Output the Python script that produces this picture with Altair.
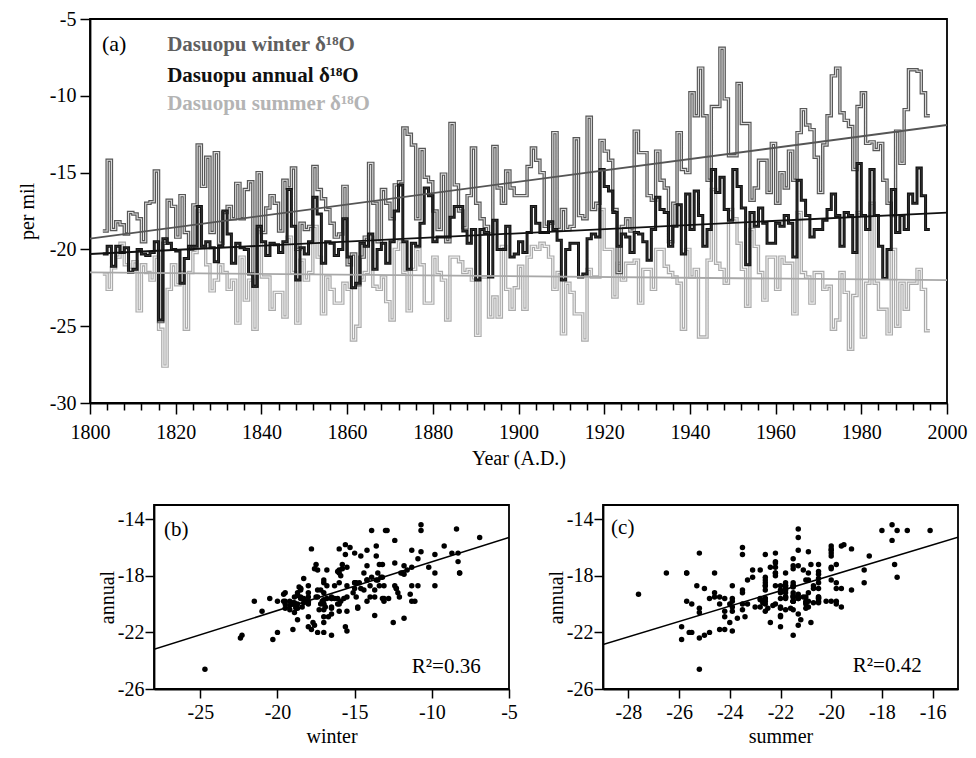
import altair as alt
import pandas as pd

# ---------------- data ----------------
years = list(range(1803, 1996))

winter = [
    -18.8, -14.2, -18.7, -18.2, -18.4, -19.0, -17.6,
    -17.7, -18.0, -19.5, -17.0, -16.9, -14.9, -24.7, -19.6, -16.8, -17.2,
    -19.2, -16.5, -18.9, -20.0, -17.1, -13.2, -15.9, -14.0, -18.9, -13.7,
    -19.6, -17.6, -17.2, -18.0, -15.7, -18.0, -16.1, -15.6, -22.4, -15.0,
    -18.9, -17.3, -16.5, -17.0, -18.8, -15.5, -16.0, -14.7, -20.0, -18.3,
    -18.7, -18.5, -14.6, -16.1, -16.7, -17.4, -18.3, -19.2, -19.0, -15.9,
    -21.0, -20.3, -22.3, -20.5, -19.2, -14.4, -17.0, -19.5, -16.1, -17.0,
    -18.0, -15.8, -15.6, -12.1, -12.5, -13.2, -18.0, -13.5, -15.3, -15.6,
    -17.5, -18.7, -15.1, -19.5, -11.8, -15.8, -17.5, -18.6, -16.5, -13.4,
    -17.0, -18.0, -18.5, -19.0, -13.3, -16.0, -17.0, -14.9, -16.0, -16.5,
    -16.5, -16.5, -14.6, -13.4, -14.2, -15.0, -18.5, -18.3, -12.4, -18.7,
    -17.4, -18.7, -18.5, -12.8, -17.8, -18.0, -11.4, -17.4, -17.0, -12.9,
    -13.6, -14.2, -17.4, -21.5, -18.5, -18.0, -18.8, -12.3, -13.7, -13.7,
    -16.5, -16.8, -13.6, -15.5, -16.0, -19.5, -17.0, -12.4, -14.8, -15.0,
    -9.8, -11.3, -8.2, -11.3, -15.5, -10.7, -10.7, -6.9, -10.2, -13.9,
    -13.9, -9.2, -11.8, -11.8, -16.8, -16.0, -14.2, -14.2, -16.3, -13.1,
    -17.0, -15.0, -16.0, -13.6, -15.5, -12.4, -10.9, -11.9, -12.2, -14.0,
    -16.3, -13.2, -11.3, -8.7, -8.2, -11.1, -11.6, -12.0, -14.8, -10.7,
    -9.8, -13.1, -13.0, -13.5, -13.1, -15.5, -17.0, -17.8, -12.3, -14.4,
    -10.9, -8.3, -8.3, -8.4, -9.8, -11.3,
]

annual = [
    -20.3, -19.8, -21.1, -19.8, -20.2, -19.9, -21.5,
    -21.3, -20.0, -20.3, -20.4, -20.2, -19.5, -24.6, -19.3, -19.6, -20.0,
    -20.1, -22.2, -20.6, -19.8, -19.8, -17.2, -19.8, -19.5, -19.9, -20.8,
    -19.8, -17.5, -19.0, -20.9, -19.6, -19.9, -20.0, -21.6, -22.4, -18.5,
    -19.5, -20.4, -19.6, -19.7, -20.2, -19.5, -16.1, -18.5, -22.0, -19.9,
    -20.3, -19.5, -16.6, -17.7, -20.9, -19.5, -19.6, -20.4, -20.0, -18.0,
    -20.5, -22.5, -22.2, -19.6, -19.8, -19.0, -21.3, -20.0, -19.6, -20.9,
    -19.5, -17.5, -15.8, -19.5, -21.3, -19.6, -19.8, -18.3, -16.0, -16.5,
    -19.5, -19.2, -19.2, -19.2, -17.9, -17.2, -17.2, -18.8, -19.6, -18.7,
    -22.0, -18.7, -18.9, -21.8, -18.1, -20.0, -20.0, -18.5, -20.5, -20.3,
    -19.5, -20.2, -18.9, -17.2, -18.3, -18.9, -18.9, -18.2, -18.7, -19.4,
    -22.0, -20.0, -19.6, -19.6, -21.8, -21.6, -19.3, -19.0, -19.2, -14.8,
    -15.9, -16.2, -17.6, -19.8, -19.0, -19.2, -20.2, -18.9, -19.0, -19.5,
    -20.7, -18.7, -16.6, -17.4, -17.6, -19.8, -18.5, -17.1, -20.3, -16.4,
    -18.7, -16.2, -17.8, -19.8, -18.7, -14.8, -16.3, -15.3, -17.4, -18.1,
    -14.8, -15.9, -17.3, -21.0, -17.6, -18.5, -17.3, -18.3, -19.6, -19.6,
    -18.3, -18.5, -17.8, -18.3, -20.5, -15.5, -16.8, -17.8, -19.2, -18.7,
    -18.7, -18.1, -17.4, -16.4, -17.8, -19.8, -17.6, -17.8, -20.2, -14.4,
    -17.8, -18.7, -14.8, -17.8, -19.8, -21.9, -20.0, -16.1, -18.9, -17.8,
    -18.7, -16.4, -17.0, -14.7, -16.5, -18.7,
]

summer = [
    -21.6, -22.6, -21.2, -20.5, -19.6, -21.0, -21.3,
    -20.8, -24.0, -21.0, -21.5, -22.0, -20.5, -25.2, -27.6, -22.6, -21.0,
    -22.3, -21.5, -25.2, -21.5, -20.2, -17.5, -19.8, -21.0, -22.7, -22.0,
    -21.0, -21.5, -22.6, -22.0, -24.8, -20.5, -23.3, -22.0, -25.2, -18.7,
    -21.8, -21.8, -23.9, -22.8, -22.8, -24.4, -19.2, -21.5, -24.8, -20.7,
    -22.0, -21.5, -18.5, -20.5, -24.2, -21.8, -22.6, -23.5, -23.5, -22.2,
    -22.6, -25.9, -25.0, -22.0, -21.5, -19.2, -22.4, -22.6, -21.8, -23.4,
    -24.6, -20.0, -19.5, -21.5, -24.0, -21.3, -20.0, -21.0, -23.5, -23.5,
    -20.5, -21.5, -22.0, -24.6, -20.5, -20.5, -20.8, -21.5, -21.3, -22.0,
    -25.6, -21.8, -21.8, -24.4, -23.1, -24.4, -19.8, -22.6, -23.9, -22.5,
    -21.1, -23.9, -20.5, -19.8, -20.0, -19.6, -19.8, -20.5, -22.6, -21.5,
    -25.5, -22.2, -22.8, -24.2, -24.2, -25.9, -21.3, -21.8, -21.8, -17.4,
    -20.0, -20.0, -23.1, -20.9, -22.0, -20.9, -20.9, -20.7, -23.5, -21.3,
    -21.3, -22.6, -20.0, -20.0, -21.1, -21.5, -21.8, -22.2, -25.2, -20.0,
    -21.8, -21.3, -25.7, -25.7, -20.7, -16.1, -20.9, -21.3, -22.2, -17.4,
    -18.0, -19.6, -21.3, -23.7, -18.7, -19.8, -21.5, -23.3, -20.5, -20.5,
    -22.6, -20.5, -20.9, -20.9, -24.2, -17.6, -21.5, -21.8, -23.5, -21.5,
    -21.5, -22.6, -22.4, -25.2, -24.6, -21.5, -22.8, -26.5, -23.0, -17.6,
    -25.7, -22.2, -17.0, -22.2, -23.9, -23.9, -25.5, -20.0, -25.0, -22.2,
    -23.9, -22.2, -22.2, -21.3, -22.6, -25.3,
]

assert len(winter) == len(years) == len(annual) == len(summer)

trend_years = [1800, 2000]
winter_trend = [-19.3, -11.9]
annual_trend = [-20.3, -17.6]
summer_trend = [-21.5, -22.0]

b_fit_x = [-28, -5]
b_fit_y = [-23.2, -15.3]
c_fit_x = [-29, -15]
c_fit_y = [-22.85, -15.27]

legend_labels = ["Dasuopu winter δ¹⁸O", "Dasuopu annual δ¹⁸O", "Dasuopu summer δ¹⁸O"]
legend_colors = ["#5f5f5f", "#111111", "#b4b4b4"]
legend_x = [1818.0, 1818.0, 1818.0]
legend_y = [-6.7, -8.72, -10.55]

FONT = "Liberation Serif"
PLAIN = "toString(datum.value)"

# ---------------- top panel (a) ----------------
def step_df(vals):
    yrs = years + [years[-1] + 1]
    v = vals + [vals[-1]]
    return pd.DataFrame({"year": yrs, "value": v})

x_enc = alt.X(
    "year:Q",
    scale=alt.Scale(domain=[1800, 2000], nice=False, zero=False),
    axis=alt.Axis(
        values=list(range(1800, 2001, 4)),
        labelExpr="datum.value % 20 === 0 ? toString(datum.value) : ''",
        tickSize={"condition": {"test": "datum.value % 20 === 0", "value": 11}, "value": 7},
        title="Year (A.D.)",
        labelPadding=8,
        titlePadding=6,
        labelFlush=False,
    ),
)
y_enc = alt.Y(
    "value:Q",
    scale=alt.Scale(domain=[-30, -5], nice=False, zero=False),
    axis=alt.Axis(values=[-30, -25, -20, -15, -10, -5], tickSize=10, labelExpr=PLAIN,
                  title="per mil", labelPadding=4, titlePadding=12, labelFlush=False),
)


def step_layers(vals, outer_color, outer_w, inner_color, inner_w):
    base = alt.Chart(step_df(vals)).encode(x=x_enc, y=y_enc)
    return [
        base.mark_line(interpolate="step-after", color=outer_color, strokeWidth=outer_w),
        base.mark_line(interpolate="step-after", color=inner_color, strokeWidth=inner_w),
    ]


def trend_layer(vals, color):
    df = pd.DataFrame({"year": trend_years, "value": vals})
    return alt.Chart(df).mark_line(color=color, strokeWidth=1.8).encode(x=x_enc, y=y_enc)


legend_df = pd.DataFrame({"year": legend_x, "value": legend_y,
                          "label": legend_labels, "col": legend_colors})
legend_layer = alt.Chart(legend_df).mark_text(
    align="left", baseline="middle", font=FONT, fontSize=21, fontWeight="bold"
).encode(x=x_enc, y=y_enc, text="label:N", color=alt.Color("col:N", scale=None))

panel_a_df = pd.DataFrame({"year": [1802.8], "value": [-6.6], "label": ["(a)"]})
panel_a = alt.Chart(panel_a_df).mark_text(
    align="left", baseline="middle", font=FONT, fontSize=22
).encode(x=x_enc, y=y_enc, text="label:N")

layers = []
layers += step_layers(summer, "#ababab", 3.4, "#f0f0f0", 1.1)
layers += step_layers(winter, "#575757", 3.4, "#dcdcdc", 1.1)
layers += step_layers(annual, "#111111", 3.0, "#444444", 0.6)
layers += [trend_layer(summer_trend, "#a8a8a8"),
           trend_layer(winter_trend, "#555555"),
           trend_layer(annual_trend, "#111111"),
           legend_layer, panel_a]

top = alt.layer(*layers).properties(width=857, height=384)

# ---------------- scatter panels ----------------
scat_df = pd.DataFrame({"winter": winter, "summer": summer, "annual": annual})

y_scat = alt.Y("annual:Q", scale=alt.Scale(domain=[-26, -13], nice=False, zero=False),
               axis=alt.Axis(values=[-26, -22, -18, -14], tickSize=9, title="annual",
                             labelExpr=PLAIN, labelPadding=1, titlePadding=0, labelFlush=False))

xb = alt.X("winter:Q", scale=alt.Scale(domain=[-28, -5], nice=False, zero=False),
           axis=alt.Axis(values=[-25, -20, -15, -10, -5], tickSize=9, title="winter",
                         labelExpr=PLAIN, labelPadding=4, titlePadding=4, labelFlush=False))
xc = alt.X("summer:Q", scale=alt.Scale(domain=[-29, -15], nice=False, zero=False),
           axis=alt.Axis(values=[-28, -26, -24, -22, -20, -18, -16], tickSize=9, title="summer",
                         labelExpr=PLAIN, labelPadding=4, titlePadding=4, labelFlush=False))

b_pts = alt.Chart(scat_df).mark_circle(size=30, color="black", opacity=1).encode(x=xb, y=y_scat)
b_fit = alt.Chart(pd.DataFrame({"winter": b_fit_x, "annual": b_fit_y})).mark_line(
    color="black", strokeWidth=1.5, clip=True).encode(x=xb, y=y_scat)
b_txt = alt.Chart(pd.DataFrame({"winter": [-27.35, -11.3], "annual": [-14.78, -24.45],
                                "label": ["(b)", "R²=0.36"]})).mark_text(
    align="left", baseline="middle", font=FONT, fontSize=21).encode(x=xb, y=y_scat, text="label:N")
panel_b = alt.layer(b_pts, b_fit, b_txt).properties(width=355, height=184)

c_pts = alt.Chart(scat_df).mark_circle(size=30, color="black", opacity=1).encode(x=xc, y=y_scat)
c_fit = alt.Chart(pd.DataFrame({"summer": c_fit_x, "annual": c_fit_y})).mark_line(
    color="black", strokeWidth=1.5, clip=True).encode(x=xc, y=y_scat)
c_txt = alt.Chart(pd.DataFrame({"summer": [-28.68, -19.15], "annual": [-14.6, -24.4],
                                "label": ["(c)", "R²=0.42"]})).mark_text(
    align="left", baseline="middle", font=FONT, fontSize=21).encode(x=xc, y=y_scat, text="label:N")
panel_c = alt.layer(c_pts, c_fit, c_txt).properties(width=355, height=184)

spacer = alt.Chart(pd.DataFrame({"s": [0]})).mark_point(opacity=0).encode(
    x=alt.X("s:Q", axis=None), y=alt.Y("s:Q", axis=None)
).properties(width=1, height=1, view=alt.ViewBackground(stroke="transparent"))

bottom = alt.hconcat(spacer, alt.hconcat(panel_b, panel_c, spacing=26), spacing=1)

chart = alt.vconcat(top, bottom, spacing=32).properties(
    padding={"left": 8, "top": 0, "right": 0, "bottom": 0}
).configure_view(
    stroke="black", strokeWidth=1.8
).configure_axis(
    labelFont=FONT, titleFont=FONT, labelFontSize=20, titleFontSize=20,
    titleFontWeight="normal", labelColor="black", titleColor="black",
    domainColor="black", tickColor="black", domainWidth=1.8, tickWidth=1.5, grid=False,
)

chart.save("out.html", embed_options={"renderer": "svg", "actions": False})
